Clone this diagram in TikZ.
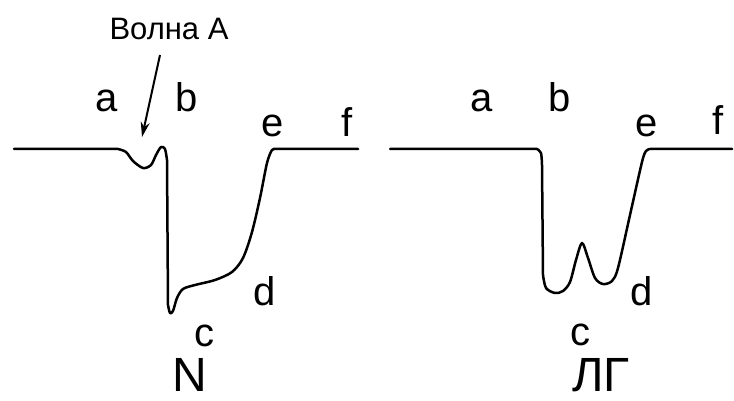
\documentclass[tikz,border=0pt]{standalone}
\usepackage{fontspec}
\setmainfont{Liberation Sans}
\usetikzlibrary{arrows.meta}
\tikzset{
  trace/.style={line width=2.5pt, line join=round, line cap=round},
  lbl/.style={inner sep=0pt, anchor=base, font=\fontsize{40}{42}\selectfont},
  big/.style={inner sep=0pt, anchor=base, font=\fontsize{48}{50}\selectfont},
  ttl/.style={inner sep=0pt, anchor=base, font=\fontsize{31}{33}\selectfont},
  pointer/.style={line width=2pt, -{Stealth[length=15pt,width=9pt]}}
}
\begin{document}
\begin{tikzpicture}[x=1pt,y=-1pt]
\useasboundingbox (0,0) rectangle (734,401);
% left trace
\draw[trace] (14,149) -- (118,149)
  plot[smooth, tension=0.5] coordinates {(118,149) (126,152) (133,161) (143,168) (151,165) (156,155) (161,147) (165,149) (167,160)}
  -- (168,305)
  plot[smooth, tension=0.5] coordinates {(168,305) (170,313) (173,311) (177,298) (183,289) (195,285) (215,280) (232,272) (243,258) (252,232) (260,198) (267,163) (272,150) (276,149)}
  -- (358,149);
% right trace
\draw[trace] (390,149) -- (537,149)
  plot[smooth, tension=0.5] coordinates {(537,149) (541,153) (542,165)}
  -- (543,275)
  plot[smooth, tension=0.5] coordinates {(543,275) (546,288) (555,293) (563,291) (570,282) (576,260) (582,243) (588,258) (595,278) (603,284) (612,281) (618,268) (630,215) (642,162) (646,151) (650,149)}
  -- (732,149);
% labels left
\node[ttl] (wa) at (169,40) {Волна A};
\coordinate (ws) at (160,55);
\coordinate (wt) at (142,137);
\draw[pointer] (ws) -- (wt);
\node[lbl] (la) at (107,112) {a};
\node[lbl] (lb) at (187,112) {b};
\node[lbl] (le) at (273,137) {e};
\node[lbl] (lf) at (347,137) {f};
\node[lbl] (ld) at (265,305) {d};
\node[lbl] (lc) at (204,346) {c};
\node[big] (ln) at (190,391) {N};
% labels right
\node[lbl] (ra) at (482,112) {a};
\node[lbl] (rb) at (560,112) {b};
\node[lbl] (re) at (647,137) {e};
\node[lbl] (rf) at (718,135) {f};
\node[lbl] (rd) at (642,305) {d};
\node[lbl] (rc) at (580,345) {c};
\node[big] (rl) at (601,391) {ЛГ};
\end{tikzpicture}
\end{document}
